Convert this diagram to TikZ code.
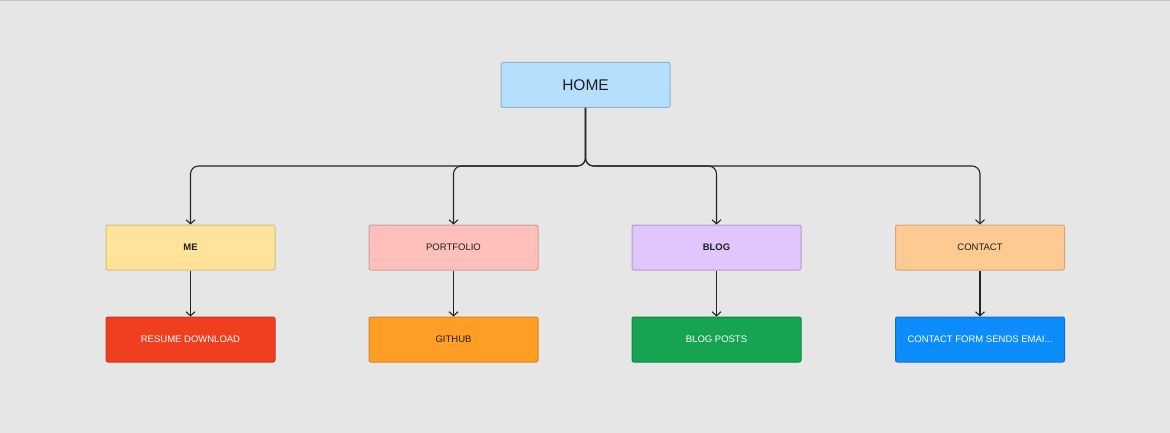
\documentclass[tikz,border=0pt]{standalone}
\usepackage{fontspec}
\setmainfont{Liberation Sans}
\usetikzlibrary{arrows.meta}
\definecolor{canvas}{HTML}{E6E6E6}
\definecolor{topline}{HTML}{C2C2C2}
\definecolor{ink}{HTML}{1E1E1E}
\definecolor{wire}{HTML}{262626}
\definecolor{homefill}{HTML}{B5DFFD}\definecolor{homeline}{HTML}{8DB2D2}
\definecolor{mefill}{HTML}{FFE39B}\definecolor{meline}{HTML}{D6BF7A}
\definecolor{portfill}{HTML}{FFC0BB}\definecolor{portline}{HTML}{D29C97}
\definecolor{blogfill}{HTML}{E0C6FD}\definecolor{blogline}{HTML}{B59BD2}
\definecolor{contfill}{HTML}{FDCB91}\definecolor{contline}{HTML}{D4A672}
\definecolor{resfill}{HTML}{F03E20}\definecolor{resline}{HTML}{C93A22}
\definecolor{gitfill}{HTML}{FF9E24}\definecolor{gitline}{HTML}{D68520}
\definecolor{postfill}{HTML}{16A352}\definecolor{postline}{HTML}{118243}
\definecolor{formfill}{HTML}{0D8CFC}\definecolor{formline}{HTML}{0A70CF}
\tikzset{
  x=1pt, y=-1pt,
  card/.style={draw, line width=1pt, rounded corners=2pt, minimum width=169pt,
    minimum height=45pt, inner sep=0pt, text=ink, font=\fontsize{9.5}{11}\selectfont},
  hub/.style={card, font=\fontsize{15.5}{18}\selectfont},
  boldcard/.style={card, font=\fontsize{9.5}{11}\selectfont\bfseries},
  link/.style={draw=wire, line width=1.1pt, rounded corners=8pt,
    -{Straight Barb[length=4pt,width=9pt,line width=1.1pt]}},
}
\begin{document}
\begin{tikzpicture}
\fill[canvas] (0,0) rectangle (1170,433);
\useasboundingbox (0,0) rectangle (1170,433);
\fill[topline] (0,0) rectangle (1170,1.5);

% top level
\node[hub, fill=homefill, draw=homeline] (home) at (585.5,85) {HOME};

% sections
\node[boldcard, fill=mefill, draw=meline] (me) at (190.5,247.5) {ME};
\node[card, fill=portfill, draw=portline] (port) at (453.5,247.5) {PORTFOLIO};
\node[boldcard, fill=blogfill, draw=blogline] (blog) at (716.5,247.5) {BLOG};
\node[card, fill=contfill, draw=contline] (contact) at (980,247.5) {CONTACT};

% features
\node[card, fill=resfill, draw=resline, text=white] (resume) at (190.5,339.5) {RESUME DOWNLOAD};
\node[card, fill=gitfill, draw=gitline] (github) at (453.5,339.5) {GITHUB};
\node[card, fill=postfill, draw=postline, text=white] (posts) at (716.5,339.5) {BLOG POSTS};
\node[card, fill=formfill, draw=formline, text=white] (form) at (980,339.5) {CONTACT FORM SENDS EMAI...};

% branching bus
\coordinate (bus) at (585.5,166);
\draw[link] (home.south) -- (bus) -| (me.north);
\draw[link] (home.south) -- (bus) -| (port.north);
\draw[link] (home.south) -- (bus) -| (blog.north);
\draw[link] (home.south) -- (bus) -| (contact.north);

% section to feature
\draw[link] (me.south) -- (resume.north);
\draw[link] (port.south) -- (github.north);
\draw[link] (blog.south) -- (posts.north);
\draw[link] (contact.south) -- (form.north);
\end{tikzpicture}
\end{document}
